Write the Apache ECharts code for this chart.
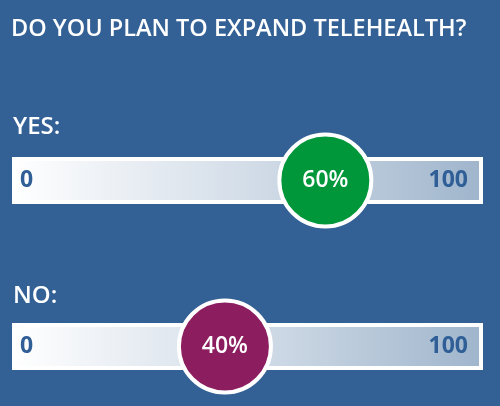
<!DOCTYPE html>
<html>
<head>
<meta charset="utf-8">
<style>
  html, body { margin: 0; padding: 0; background: #336195; }
  #chart { width: 500px; height: 406px; }
</style>
<script src="https://cdn.jsdelivr.net/npm/echarts@6/dist/echarts.min.js"></script>
</head>
<body>
<div id="chart"></div>
<script>
// Survey question and answers
const question = 'DO YOU PLAN TO EXPAND TELEHEALTH?';
const answers = ['YES:', 'NO:'];
const shares = [60, 40];
const shareColors = ['#00963a', '#8c1e5f'];
// Labels printed at the two ends of each track
const trackEndLabels = ['0', '100'];
// Value range covered by each track
const trackMin = -2;
const trackMax = 91;

const FONT = '"Open Sans", "DejaVu Sans", sans-serif';
const rowTops = [159, 325];
const answerMids = [127, 296];

const chart = echarts.init(document.getElementById('chart'), null, { renderer: 'canvas' });

const grids = [], xAxes = [], yAxes = [], series = [], graphics = [];

answers.forEach((answer, i) => {
  grids.push({
    left: 14, width: 467, top: rowTops[i], height: 43,
    show: true,
    borderWidth: 4,
    borderColor: '#ffffff',
    backgroundColor: new echarts.graphic.LinearGradient(0, 0, 1, 0, [
      { offset: 0, color: '#ffffff' },
      { offset: 0.5, color: '#d3dde8' },
      { offset: 1, color: '#9fb5cc' }
    ])
  });
  xAxes.push({
    type: 'value', gridIndex: i, min: trackMin, max: trackMax,
    show: false
  });
  yAxes.push({
    type: 'value', gridIndex: i, min: -1, max: 1, show: false
  });
  series.push({
    type: 'scatter',
    xAxisIndex: i, yAxisIndex: i,
    symbol: 'circle',
    symbolSize: 92,
    silent: true,
    z: 5,
    itemStyle: { color: shareColors[i], borderColor: '#ffffff', borderWidth: 4, opacity: 1 },
    label: {
      show: true, position: 'inside',
      formatter: p => p.value[0] + '%',
      color: '#ffffff', fontFamily: FONT, fontWeight: 600, fontSize: 23
    },
    data: [[shares[i], 0]]
  });

  const mid = rowTops[i] + 21.5;
  graphics.push({
    type: 'text', x: 13, y: answerMids[i],
    style: { text: answer, fill: '#ffffff', font: '600 24px ' + FONT, verticalAlign: 'middle' }
  });
  graphics.push({
    type: 'text', x: 20, y: mid,
    style: { text: trackEndLabels[0], fill: '#2f5f96', font: 'bold 23px ' + FONT, verticalAlign: 'middle' }
  });
  graphics.push({
    type: 'text', x: 468, y: mid,
    style: { text: trackEndLabels[1], fill: '#2f5f96', font: 'bold 23px ' + FONT, verticalAlign: 'middle', align: 'right' }
  });
});

graphics.push({
  type: 'text', x: 11, y: 29,
  style: { text: question, fill: '#ffffff', font: '600 23.5px ' + FONT, verticalAlign: 'middle' }
});

chart.setOption({
  backgroundColor: '#336195',
  animation: false,
  grid: grids,
  xAxis: xAxes,
  yAxis: yAxes,
  series: series,
  graphic: graphics
});
</script>
</body>
</html>
